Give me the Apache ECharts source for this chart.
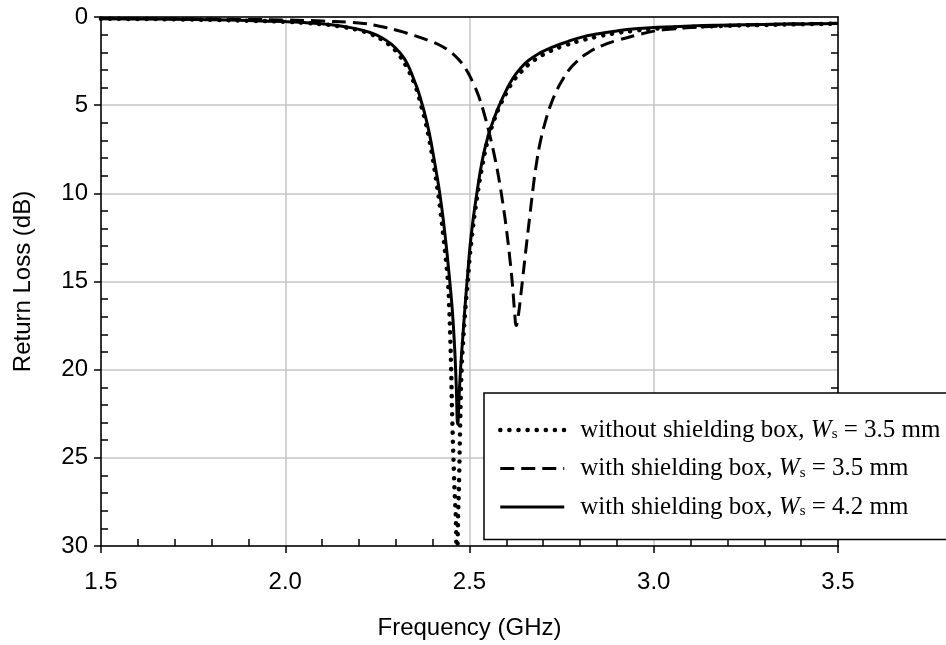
<!DOCTYPE html>
<html>
<head>
<meta charset="utf-8">
<script src="https://cdn.jsdelivr.net/npm/echarts@6/dist/echarts.min.js"></script>
<style>
  html, body { margin: 0; padding: 0; background: #fff; }
  #chart { width: 946px; height: 645px; }
</style>
</head>
<body>
<div id="chart"></div>
<script>
// Return loss of the antenna, in dB (drawn positive, axis pointing down)

// without shielding box, Ws = 3.5 mm
const freqNoBox = [1.5,1.6,1.7,1.8,1.9,2.0,2.05,2.1,2.15,2.2,2.23,2.26,2.29,2.31,2.33,2.35,2.36,2.37,2.38,2.39,2.40,2.41,2.42,2.43,2.441,2.445,2.448,2.45,2.453,2.458,2.464,2.466,2.468,2.472,2.475,2.478,2.482,2.488,2.495,2.505,2.52,2.535,2.55,2.565,2.58,2.60,2.62,2.64,2.66,2.69,2.72,2.76,2.80,2.85,2.90,2.95,3.0,3.1,3.2,3.3,3.4,3.5];
const rlNoBox   = [0.10,0.11,0.13,0.16,0.21,0.27,0.33,0.41,0.54,0.75,0.95,1.25,1.72,2.18,2.85,3.75,4.35,5.1,5.9,6.85,8.0,9.3,10.8,12.6,14.9,16.5,18.3,19.8,22.6,26.0,29.5,36.0,29.5,26.0,22.8,20.3,18.6,16.8,15.0,12.7,10.3,8.4,6.95,5.95,5.15,4.3,3.6,3.1,2.7,2.25,1.92,1.6,1.35,1.1,0.9,0.77,0.67,0.56,0.5,0.45,0.41,0.38];

// with shielding box, Ws = 3.5 mm
const freqBox35 = [1.5,1.6,1.7,1.8,1.9,2.0,2.1,2.2,2.25,2.30,2.35,2.40,2.43,2.45,2.47,2.49,2.51,2.525,2.54,2.555,2.57,2.58,2.59,2.60,2.61,2.617,2.622,2.627,2.632,2.638,2.645,2.653,2.663,2.672,2.681,2.693,2.707,2.72,2.735,2.75,2.77,2.79,2.82,2.86,2.90,2.95,3.0,3.05,3.1,3.2,3.3,3.4,3.5];
const rlBox35   = [0.08,0.09,0.10,0.12,0.14,0.17,0.23,0.34,0.5,0.74,1.05,1.42,1.72,2.0,2.4,2.95,3.75,4.5,5.5,6.7,8.1,9.2,10.5,12.0,13.8,15.3,16.6,17.5,17.0,16.0,14.7,13.2,11.4,9.8,8.4,7.0,5.85,5.0,4.25,3.65,3.0,2.55,2.05,1.62,1.33,1.05,0.8,0.68,0.6,0.5,0.43,0.39,0.35];

// with shielding box, Ws = 4.2 mm
const freqBox42 = [1.5,1.6,1.7,1.8,1.9,2.0,2.05,2.1,2.15,2.2,2.23,2.26,2.29,2.31,2.33,2.35,2.36,2.37,2.38,2.39,2.40,2.41,2.42,2.43,2.44,2.45,2.455,2.46,2.464,2.468,2.472,2.476,2.481,2.488,2.495,2.505,2.52,2.535,2.55,2.565,2.58,2.60,2.62,2.64,2.66,2.69,2.72,2.76,2.80,2.85,2.90,2.95,3.0,3.1,3.2,3.3,3.4,3.5];
const rlBox42   = [0.10,0.11,0.13,0.16,0.20,0.26,0.31,0.39,0.51,0.70,0.88,1.15,1.58,2.0,2.6,3.6,4.15,4.85,5.6,6.5,7.6,8.8,10.1,11.7,13.6,15.8,17.1,18.9,20.9,23.1,21.4,19.9,18.4,16.4,14.6,12.3,10.0,8.1,6.8,5.85,5.05,4.15,3.4,2.87,2.47,2.05,1.75,1.44,1.17,0.95,0.79,0.67,0.6,0.51,0.46,0.42,0.39,0.37];

// legend text pieces: prefix, italic W, subscript s, suffix
const legendPrefix = ['without shielding box, ', 'with shielding box, ', 'with shielding box, '];
const legendSuffix = [' = 3.5 mm', ' = 3.5 mm', ' = 4.2 mm'];
const seriesNames = legendPrefix.map((p, i) => p + 'Ws' + legendSuffix[i]);

const xTitle = 'Frequency (GHz)';
const yTitle = 'Return Loss (dB)';

const pairs = (xs, ys) => xs.map((x, i) => [x, ys[i]]);

const chart = echarts.init(document.getElementById('chart'), null, { renderer: 'canvas' });

const axisFont = 'Liberation Sans';
const serifFont = 'Liberation Serif';
const gridColor = '#c4c4c4';
const inkColor = '#000';

// line styles shared by the curves and their legend samples
const dottedStyle = { color: inkColor, width: 4.5, type: [0.1, 9], cap: 'round' };
const dashedStyle = { color: inkColor, width: 3, type: [14, 7], cap: 'butt' };
const solidStyle  = { color: inkColor, width: 3, type: 'solid', cap: 'butt' };

const minorTicks = { show: true, splitNumber: 5, length: 7, lineStyle: { color: inkColor, width: 1.5 } };

const option = {
  backgroundColor: '#fff',
  animation: false,
  color: [inkColor, inkColor, inkColor],
  grid: { left: 101, top: 17, width: 737, height: 531 },
  xAxis: [
    {
      type: 'value', min: 1.5, max: 3.5, interval: 0.5, position: 'bottom',
      name: xTitle, nameLocation: 'middle', nameGap: 70,
      nameTextStyle: { fontFamily: axisFont, fontSize: 24, color: inkColor },
      axisLine: { show: true, onZero: false, lineStyle: { color: inkColor, width: 1.5 } },
      axisTick: { show: true, inside: false, length: 7, lineStyle: { color: inkColor, width: 1.5 } },
      axisLabel: { fontFamily: axisFont, fontSize: 24, color: inkColor, margin: 24,
        formatter: v => v.toFixed(1) },
      splitLine: { show: true, lineStyle: { color: gridColor, width: 1.5 } }
    },
    {
      // inner minor ticks along the bottom edge
      type: 'value', min: 1.5, max: 3.5, interval: 0.5, position: 'bottom',
      axisLine: { show: false, onZero: false },
      axisTick: { show: false, inside: true },
      minorTick: minorTicks,
      axisLabel: { show: false }, splitLine: { show: false }
    },
    {
      // top frame
      type: 'value', min: 1.5, max: 3.5, interval: 0.5, position: 'top',
      axisLine: { show: true, onZero: false, lineStyle: { color: inkColor, width: 1.5 } },
      axisTick: { show: false }, axisLabel: { show: false }, splitLine: { show: false }
    }
  ],
  yAxis: [
    {
      type: 'value', min: 0, max: 30, interval: 5, inverse: true, position: 'left',
      name: yTitle, nameLocation: 'middle', nameGap: 66, nameRotate: 90,
      nameTextStyle: { fontFamily: axisFont, fontSize: 24, color: inkColor },
      axisLine: { show: true, onZero: false, lineStyle: { color: inkColor, width: 1.5 } },
      axisTick: { show: true, inside: false, length: 7, lineStyle: { color: inkColor, width: 1.5 } },
      axisLabel: { fontFamily: axisFont, fontSize: 24, color: inkColor, margin: 13 },
      splitLine: { show: true, lineStyle: { color: gridColor, width: 1.5 } }
    },
    {
      // inner minor ticks along the left edge
      type: 'value', min: 0, max: 30, interval: 5, inverse: true, position: 'left',
      axisLine: { show: false, onZero: false },
      axisTick: { show: false, inside: true },
      minorTick: minorTicks,
      axisLabel: { show: false }, splitLine: { show: false }
    },
    {
      // right frame with inner minor ticks
      type: 'value', min: 0, max: 30, interval: 5, inverse: true, position: 'right',
      axisLine: { show: true, onZero: false, lineStyle: { color: inkColor, width: 1.5 } },
      axisTick: { show: false, inside: true },
      minorTick: minorTicks,
      axisLabel: { show: false }, splitLine: { show: false }
    }
  ],
  legend: {
    orient: 'vertical',
    left: 484, top: 393,
    padding: [21, 60, 20, 14],
    itemGap: 10,
    itemWidth: 64, itemHeight: 24,
    backgroundColor: '#fff',
    borderColor: inkColor, borderWidth: 1.5, borderRadius: 0,
    selectedMode: false,
    data: [
      { name: seriesNames[0], itemStyle: { opacity: 0 }, lineStyle: dottedStyle },
      { name: seriesNames[1], itemStyle: { opacity: 0 }, lineStyle: dashedStyle },
      { name: seriesNames[2], itemStyle: { opacity: 0 }, lineStyle: solidStyle }
    ],
    textStyle: {
      fontFamily: serifFont, fontSize: 25, color: inkColor,
      padding: [0, 0, 0, 11],
      rich: {
        t: { fontFamily: serifFont, fontSize: 25, color: inkColor, lineHeight: 24 },
        w: { fontFamily: serifFont, fontSize: 25, fontStyle: 'italic', color: inkColor, lineHeight: 24 },
        s: { fontFamily: serifFont, fontSize: 15, color: inkColor, lineHeight: 24, verticalAlign: 'bottom', padding: [13, 0, 0, 0] }
      }
    },
    formatter: name => {
      const i = seriesNames.indexOf(name);
      return '{t|' + legendPrefix[i] + '}{w|W}{s|s}{t|' + legendSuffix[i] + '}';
    }
  },
  series: [
    {
      name: seriesNames[0], type: 'line', data: pairs(freqNoBox, rlNoBox),
      xAxisIndex: 0, yAxisIndex: 0,
      smooth: 0.5, symbol: 'none', showSymbol: false, clip: true, z: 3,
      itemStyle: { color: inkColor },
      lineStyle: dottedStyle
    },
    {
      name: seriesNames[1], type: 'line', data: pairs(freqBox35, rlBox35),
      xAxisIndex: 0, yAxisIndex: 0,
      smooth: 0.5, symbol: 'none', showSymbol: false, clip: true, z: 3,
      itemStyle: { color: inkColor },
      lineStyle: dashedStyle
    },
    {
      name: seriesNames[2], type: 'line', data: pairs(freqBox42, rlBox42),
      xAxisIndex: 0, yAxisIndex: 0,
      smooth: 0.5, symbol: 'none', showSymbol: false, clip: true, z: 4,
      itemStyle: { color: inkColor },
      lineStyle: solidStyle
    }
  ]
};

chart.setOption(option);
</script>
</body>
</html>
